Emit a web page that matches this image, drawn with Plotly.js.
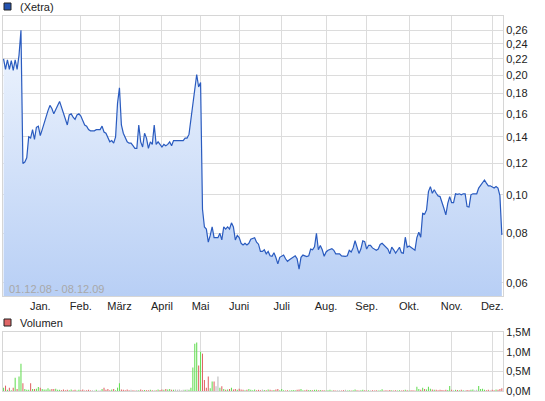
<!DOCTYPE html>
<html><head><meta charset="utf-8">
<script src="https://cdn.plot.ly/plotly-3.0.1.min.js"></script>
<style>html,body{margin:0;padding:0;background:#fff}#chart{width:545px;height:401px}</style>
</head><body><div id="chart"></div>
<script>
// Trading days Dec 2008 .. 08 Dec 2009 (Xetra)
const monthLabels = ['Jan.','Feb.','März','April','Mai','Juni','Juli','Aug.','Sep.','Okt.','Nov.','Dez.'];
const tradingDaysPerMonth = [19,21,20,22,20,20,22,23,21,22,22,21,6]; // Dez 08 ... Dez 09
const periodText = '01.12.08 - 08.12.09';
const seriesName = '(Xetra)';
const volumeName = 'Volumen';

const price = [
 0.220,0.207,0.219,0.207,0.218,0.206,0.219,0.207,0.225,0.260,0.120,0.121,0.124,0.140,0.139,0.146,0.138,0.148,0.149,
 0.141,0.146,0.152,0.157,0.163,0.168,0.165,0.160,0.165,0.168,0.172,0.166,0.160,0.154,0.150,0.159,0.160,0.157,0.155,0.159,0.160,
 0.158,0.153,0.150,0.149,0.146,0.145,0.145,0.145,0.146,0.146,0.146,0.149,0.144,0.143,0.139,0.136,0.137,0.135,0.140,0.170,
 0.186,0.150,0.143,0.139,0.136,0.135,0.135,0.133,0.131,0.131,0.150,0.136,0.132,0.143,0.139,0.131,0.136,0.134,0.150,0.134,0.136,0.134,
 0.132,0.134,0.133,0.134,0.136,0.133,0.137,0.137,0.137,0.137,0.137,0.137,0.139,0.139,0.142,0.155,0.170,0.184,0.201,0.187,
 0.192,0.092,0.083,0.082,0.076,0.079,0.083,0.078,0.078,0.078,0.080,0.077,0.083,0.082,0.083,0.082,0.085,0.083,0.077,0.079,
 0.078,0.0755,0.0748,0.0755,0.0748,0.0755,0.0773,0.0775,0.078,0.076,0.0751,0.072,0.072,0.0727,0.071,0.072,0.0702,0.070,0.0715,0.0695,0.067,0.0696,
 0.0702,0.0705,0.069,0.068,0.0686,0.0692,0.0696,0.0702,0.069,0.065,0.0696,0.0705,0.0702,0.0699,0.0702,0.073,0.0727,0.074,0.080,0.0727,0.0745,0.0727,0.070,
 0.0718,0.0725,0.073,0.0732,0.0725,0.071,0.071,0.071,0.0702,0.070,0.070,0.0702,0.0725,0.0718,0.0735,0.0766,0.0735,0.0712,0.073,0.0766,0.0762,
 0.073,0.0746,0.0746,0.0735,0.0728,0.0725,0.073,0.075,0.0755,0.0747,0.0738,0.073,0.071,0.0738,0.0727,0.0713,0.0725,0.0738,0.0715,0.0713,0.0782,0.0738,
 0.0743,0.0738,0.0730,0.0725,0.0780,0.0805,0.0782,0.0898,0.0894,0.0916,0.1019,0.1049,0.1009,0.1030,0.1009,0.0994,0.0990,0.0962,0.0925,0.0890,0.0952,0.0990,
 0.0956,0.0956,0.1006,0.1003,0.1006,0.1000,0.1006,0.1006,0.0934,0.0932,0.1000,0.1006,0.1006,0.1006,0.1040,0.1059,0.1075,0.1090,0.1070,0.1054,0.1054,
 0.1046,0.1040,0.1049,0.1040,0.0995,0.0792
];

// Volume in millions
const volume = [
 0.085,0.136,0.03,0.085,0.02,0.085,0.34,0.05,0.37,0.69,0.2,0.05,0.03,0.03,0.2,0.05,0.05,0.06,0.1,
 0.085,0.05,0.035,0.035,0.07,0.035,0.05,0.05,0.06,0.03,0.03,0.02,0.035,0.02,0.03,0.02,0.035,0.02,0.03,0.015,0.03,
 0.02,0.035,0.015,0.02,0.03,0.015,0.02,0.015,0.03,0.015,0.02,0.05,0.085,0.03,0.05,0.02,0.035,0.05,0.02,0.085,
 0.2,0.04,0.03,0.02,0.035,0.02,0.03,0.02,0.015,0.025,0.02,0.035,0.02,0.025,0.02,0.02,0.03,0.02,0.015,0.02,0.035,0.025,
 0.04,0.03,0.05,0.035,0.05,0.03,0.03,0.035,0.03,0.035,0.02,0.03,0.03,0.04,0.03,0.085,0.6,1.2,1.23,0.65,
 1.0,0.95,0.28,0.08,0.37,0.07,0.24,0.24,0.12,0.37,0.08,0.12,0.05,0.03,0.04,0.05,0.08,0.04,0.05,0.03,
 0.06,0.04,0.03,0.02,0.03,0.05,0.03,0.02,0.035,0.02,0.03,0.02,0.04,0.025,0.02,0.035,0.03,0.02,0.025,0.035,0.05,0.02,
 0.05,0.02,0.015,0.02,0.015,0.02,0.025,0.02,0.03,0.04,0.05,0.02,0.02,0.03,0.025,0.025,0.02,0.03,0.03,0.02,0.025,0.02,0.02,
 0.015,0.02,0.03,0.015,0.02,0.015,0.02,0.02,0.015,0.02,0.03,0.015,0.02,0.015,0.02,0.04,0.02,0.015,0.02,0.03,0.02,
 0.015,0.02,0.015,0.02,0.015,0.02,0.015,0.02,0.045,0.015,0.02,0.015,0.025,0.02,0.015,0.02,0.015,0.02,0.015,0.02,0.03,0.02,
 0.015,0.02,0.02,0.015,0.11,0.05,0.03,0.085,0.05,0.04,0.11,0.06,0.04,0.03,0.03,0.02,0.03,0.025,0.02,0.03,0.025,0.13,
 0.03,0.02,0.03,0.025,0.02,0.03,0.02,0.02,0.025,0.02,0.03,0.04,0.02,0.03,0.13,0.05,0.06,0.03,0.02,0.03,0.02,
 0.03,0.02,0.04,0.03,0.05,0.07
];

const priceTicks = [0.06,0.08,0.10,0.12,0.14,0.16,0.18,0.20,0.22,0.24,0.26];
const volumeTicks = [0,0.5,1.0,1.5];

// --- derived ---
const idx = price.map((_, i) => i);
const monthStarts = [];
let acc = 0;
for (let m = 0; m < tradingDaysPerMonth.length - 1; m++) { acc += tradingDaysPerMonth[m]; monthStarts.push(acc); }
const barColors = price.map((p, i) => {
  if (i === 0) return '#66dd55';
  if (p > price[i-1]) return '#66dd55';
  if (p < price[i-1]) return '#e06666';
  return '#bbbbbb';
});
const volumeTickText = volumeTicks.map(v => v.toFixed(1).replace('.', ',') + 'M');

const xRange = [-0.3, price.length - 0.4];
const yLogRange = [Math.log10(0.0556), Math.log10(0.2823)];
const gridCol = '#dcdcdc';

const traces = [
  {
    x: idx, y: price, type: 'scatter', mode: 'lines',
    line: {color: '#2a5bbf', width: 1.2},
    fill: 'tozeroy',
    fillgradient: {type: 'vertical', start: Math.pow(10, yLogRange[0]), stop: Math.pow(10, yLogRange[1]),
      colorscale: [[0, 'rgb(184,207,245)'], [1, 'rgb(242,247,254)']]},
    xaxis: 'x', yaxis: 'y', hoverinfo: 'skip'
  },
  {
    x: idx, y: volume, type: 'bar', width: 0.55,
    marker: {color: barColors, line: {width: 0}},
    xaxis: 'x2', yaxis: 'y2', hoverinfo: 'skip'
  }
];

const axisCommon = {showgrid: true, gridcolor: gridCol, gridwidth: 1, zeroline: false,
  showline: true, linecolor: '#d6d6d6', linewidth: 1, mirror: true, ticks: '', fixedrange: true};

const layout = {
  width: 545, height: 401,
  margin: {l: 3, r: 42, t: 0, b: 0, pad: 0},
  separators: ',.',
  showlegend: false,
  paper_bgcolor: '#ffffff', plot_bgcolor: '#ffffff',
  font: {family: 'Liberation Sans, Arial, sans-serif', size: 11, color: '#222222'},
  xaxis: Object.assign({}, axisCommon, {domain: [0, 1], range: xRange, anchor: 'y',
    tickmode: 'array', tickvals: monthStarts, ticktext: monthLabels, tickfont: {size: 11, color: '#222'}}),
  yaxis: Object.assign({}, axisCommon, {domain: [1 - 296/401, 1 - 16/401], type: 'log', range: yLogRange,
    side: 'right', anchor: 'x', tickmode: 'array', tickvals: priceTicks, tickformat: '.2f', tickfont: {size: 11, color: '#222'}}),
  xaxis2: Object.assign({}, axisCommon, {domain: [0, 1], range: xRange, anchor: 'y2', matches: 'x',
    tickmode: 'array', tickvals: monthStarts, showticklabels: false}),
  yaxis2: Object.assign({}, axisCommon, {domain: [1 - 391/401, 1 - 332/401], range: [0, 1.5],
    side: 'right', anchor: 'x2', tickmode: 'array', tickvals: volumeTicks, ticktext: volumeTickText, tickfont: {size: 11, color: '#222'}}),
  shapes: [
    {type: 'rect', xref: 'paper', yref: 'paper', x0: 1/500, x1: 8/500, y0: 1 - 10/401, y1: 1 - 3/401,
     fillcolor: '#2352b0', line: {color: '#222', width: 1}},
    {type: 'rect', xref: 'paper', yref: 'paper', x0: 1/500, x1: 8/500, y0: 1 - 326/401, y1: 1 - 319/401,
     fillcolor: '#e06666', line: {color: '#222', width: 1}}
  ],
  annotations: [
    {text: seriesName, xref: 'paper', yref: 'paper', x: 15/500, y: 1 - 7/401, xanchor: 'left', yanchor: 'middle',
     showarrow: false, font: {size: 11, color: '#222'}},
    {text: volumeName, xref: 'paper', yref: 'paper', x: 15/500, y: 1 - 323/401, xanchor: 'left', yanchor: 'middle',
     showarrow: false, font: {size: 11, color: '#222'}},
    {text: periodText, xref: 'paper', yref: 'paper', x: 4/500, y: 1 - 289/401, xanchor: 'left', yanchor: 'middle',
     showarrow: false, font: {size: 11, color: '#a8a8a8'}}
  ]
};

Plotly.newPlot('chart', traces, layout, {staticPlot: true, displayModeBar: false});
</script>
</body></html>
